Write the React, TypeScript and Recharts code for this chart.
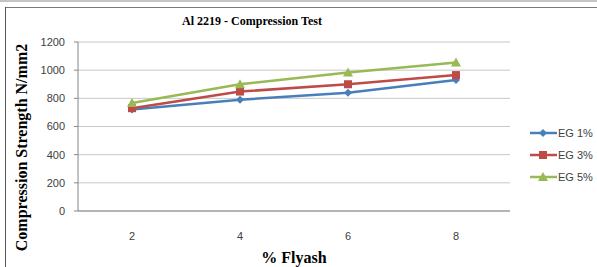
import { LineChart, Line, XAxis, YAxis, CartesianGrid, Legend } from 'recharts'

const flyash = ['2', '4', '6', '8']
const eg1 = [720, 790, 840, 930]
const eg3 = [730, 848, 900, 965]
const eg5 = [767, 900, 983, 1055]
const yTicks = [0, 200, 400, 600, 800, 1000, 1200]

const SERIES = [
  { key: 'eg1', name: 'EG 1%', color: '#4a7ebb', shape: 'diamond' },
  { key: 'eg3', name: 'EG 3%', color: '#be4b48', shape: 'square' },
  { key: 'eg5', name: 'EG 5%', color: '#98b954', shape: 'triangle' },
]

const data = flyash.map((x, i) => ({ x, eg1: eg1[i], eg3: eg3[i], eg5: eg5[i] }))

function Marker({ cx, cy, shape, color }: { cx: number; cy: number; shape: string; color: string }) {
  if (cx == null || cy == null) return null
  if (shape === 'diamond') {
    return <polygon points={`${cx},${cy - 4} ${cx + 4},${cy} ${cx},${cy + 4} ${cx - 4},${cy}`} fill={color} />
  }
  if (shape === 'square') {
    return <rect x={cx - 4} y={cy - 4} width={8} height={8} fill={color} />
  }
  return <polygon points={`${cx},${cy - 5} ${cx + 5},${cy + 4} ${cx - 5},${cy + 4}`} fill={color} />
}

function LegendBox() {
  return (
    <div style={{ fontFamily: '"Liberation Sans", Arial, sans-serif', fontSize: 11, color: '#404040' }}>
      {SERIES.map(s => (
        <div key={s.key} style={{ display: 'flex', alignItems: 'center', height: 22 }}>
          <svg width={27} height={12}>
            <line x1={0} y1={6} x2={27} y2={6} stroke={s.color} strokeWidth={2.5} />
            <Marker cx={13} cy={6} shape={s.shape} color={s.color} />
          </svg>
          <span style={{ marginLeft: 1 }}>{s.name}</span>
        </div>
      ))}
    </div>
  )
}

function YLabel({ viewBox }: any) {
  const x = 21
  const y = viewBox.y + viewBox.height / 2 + 21
  return (
    <text x={x} y={y} transform={`rotate(-90 ${x} ${y})`} textAnchor="middle" dominantBaseline="central"
      style={{ fontFamily: '"Liberation Serif", "Times New Roman", serif', fontSize: 16, fontWeight: 'bold' }} fill="#000">
      Compression Strength N/mm2
    </text>
  )
}

export default function App() {
  const tickStyle = { fontSize: 11, fill: '#404040', fontFamily: '"Liberation Sans", Arial, sans-serif' }
  return (
    <div style={{ position: 'absolute', left: 0, top: 0, width: 597, height: 267, background: '#fff', overflow: 'hidden' }}>
      <div style={{ position: 'absolute', left: 0, top: 0, width: 597, height: 2, background: '#c4c4c4' }} />
      <div style={{ position: 'absolute', left: 5, top: 7, width: 592, height: 1, background: '#7a7a7a' }} />
      <div style={{ position: 'absolute', left: 5, top: 7, width: 1, height: 260, background: '#555' }} />
      <div style={{
        position: 'absolute', left: 152, top: 14, width: 200, textAlign: 'center', lineHeight: '14px',
        fontFamily: '"Liberation Serif", "Times New Roman", serif', fontSize: 12, fontWeight: 'bold'
      }}>
        Al 2219 - Compression Test
      </div>
      <div style={{ position: 'absolute', left: 0, top: 0 }}>
        <LineChart width={597} height={267} data={data} margin={{ top: 42, right: 87, left: 18, bottom: 0 }}>
          <CartesianGrid vertical={false} stroke="#c8c8c8" />
          <XAxis dataKey="x" padding={{ left: 54, right: 54 }} tickLine={false} axisLine={{ stroke: '#868686' }}
            tick={tickStyle} tickMargin={15} height={56}
            label={{ value: '% Flyash', position: 'insideBottom', offset: 4,
              style: { fontFamily: '"Liberation Serif", "Times New Roman", serif', fontSize: 16, fontWeight: 'bold', fill: '#000' } }} />
          <YAxis domain={[0, 1200]} ticks={yTicks} width={60} tick={tickStyle} tickSize={4} tickMargin={9}
            axisLine={{ stroke: '#868686' }} tickLine={{ stroke: '#868686' }} label={<YLabel />} />
          <Legend layout="vertical" align="center" verticalAlign="middle" content={<LegendBox />}
            wrapperStyle={{ left: 530, top: 122, width: 67 }} />
          {SERIES.map(s => (
            <Line key={s.key} dataKey={s.key} name={s.name} stroke={s.color} strokeWidth={2.5}
              isAnimationActive={false}
              dot={(p: any) => <Marker key={`${s.key}-${p.index}`} cx={p.cx} cy={p.cy} shape={s.shape} color={s.color} />}
              activeDot={false} />
          ))}
        </LineChart>
      </div>
    </div>
  )
}
